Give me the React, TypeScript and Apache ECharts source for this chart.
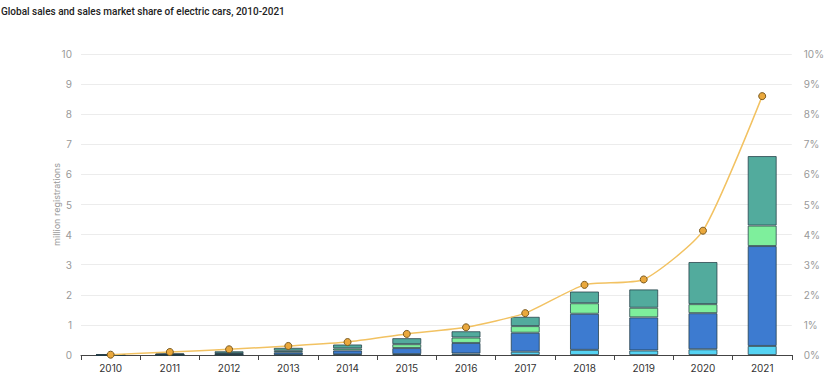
import React, { useEffect, useRef } from "react";
import * as echarts from "echarts";

const years = ["2010","2011","2012","2013","2014","2015","2016","2017","2018","2019","2020","2021"];
const cyanSeries = [0, 0.003, 0.005, 0.01, 0.02, 0.03, 0.05, 0.11, 0.17, 0.15, 0.19, 0.30];
const blueSeries = [0, 0.01, 0.03, 0.08, 0.13, 0.20, 0.35, 0.63, 1.20, 1.10, 1.20, 3.32];
const greenSeries = [0, 0.01, 0.02, 0.05, 0.07, 0.13, 0.18, 0.22, 0.35, 0.32, 0.30, 0.68];
const tealSeries = [0, 0.03, 0.07, 0.10, 0.13, 0.20, 0.21, 0.31, 0.39, 0.61, 1.40, 2.31];
const shareSeries = [0.01, 0.1, 0.19, 0.3, 0.43, 0.7, 0.92, 1.39, 2.33, 2.51, 4.13, 8.6];
const leftTicks = [0, 1, 2, 3, 4, 5, 6, 7, 8, 9, 10];

const FONT = "Inter, 'Noto Sans', sans-serif";

export default function App() {
  const ref = useRef<HTMLDivElement>(null);
  useEffect(() => {
    if (!ref.current) return;
    const chart = echarts.init(ref.current, null, { renderer: "svg" });
    const barBase = {
      type: "bar",
      stack: "sales",
      barWidth: "49%",
      yAxisIndex: 0,
      itemStyle: { borderColor: "rgba(35,60,70,0.75)", borderWidth: 1 },
    };
    chart.setOption({
      animation: false,
      textStyle: { fontFamily: FONT },
      title: {
        text: "Global sales and sales market share of electric cars, 2010-2021",
        left: 1,
        top: 6,
        padding: 0,
        textStyle: { fontSize: 10, fontWeight: 500, color: "#222", fontFamily: "Roboto, sans-serif" },
      },
      grid: { left: 81, right: 31, top: 54, bottom: 24 },
      xAxis: {
        type: "category",
        data: years,
        boundaryGap: true,
        axisLine: { lineStyle: { color: "#444", width: 1 } },
        axisTick: { show: true, length: 5, lineStyle: { color: "#444" } },
        axisLabel: { color: "#333", fontSize: 10, margin: 8, fontFamily: FONT },
      },
      yAxis: [
        {
          type: "value",
          min: leftTicks[0],
          max: leftTicks[leftTicks.length - 1],
          interval: 1,
          name: "million registrations",
          nameLocation: "middle",
          nameGap: 20,
          nameMoveOverlap: false,
          nameRotate: 90,
          nameTextStyle: { color: "#999", fontSize: 9, fontFamily: FONT },
          axisLine: { show: false },
          axisTick: { show: false },
          axisLabel: { color: "#999", fontSize: 10, margin: 9, fontFamily: FONT },
          splitLine: { lineStyle: { color: "#ececec" } },
        },
        {
          type: "value",
          min: 0,
          max: 10,
          interval: 1,
          position: "right",
          axisLine: { show: false },
          axisTick: { show: false },
          axisLabel: { color: "#999", fontSize: 10, margin: 12, formatter: "{value}%", fontFamily: FONT },
          splitLine: { show: false },
        },
      ],
      series: [
        { ...barBase, name: "cyan", data: cyanSeries, itemStyle: { ...barBase.itemStyle, color: "#55d3f3" } },
        { ...barBase, name: "blue", data: blueSeries, itemStyle: { ...barBase.itemStyle, color: "#3d7bd0" } },
        { ...barBase, name: "green", data: greenSeries, itemStyle: { ...barBase.itemStyle, color: "#7eef9c" } },
        { ...barBase, name: "teal", data: tealSeries, itemStyle: { ...barBase.itemStyle, color: "#52ab9d" } },
        {
          type: "line",
          name: "share",
          yAxisIndex: 1,
          data: shareSeries,
          smooth: 0.2,
          symbol: "circle",
          symbolSize: 7,
          z: 5,
          lineStyle: { color: "#f2c262", width: 1.5 },
          itemStyle: { color: "#eaa83c", borderColor: "#7a5a20", borderWidth: 1 },
        },
      ],
    });
    return () => chart.dispose();
  }, []);
  return (
    <div
      ref={ref}
      style={{ position: "absolute", left: 0, top: 0, width: 827, height: 379 }}
    />
  );
}
